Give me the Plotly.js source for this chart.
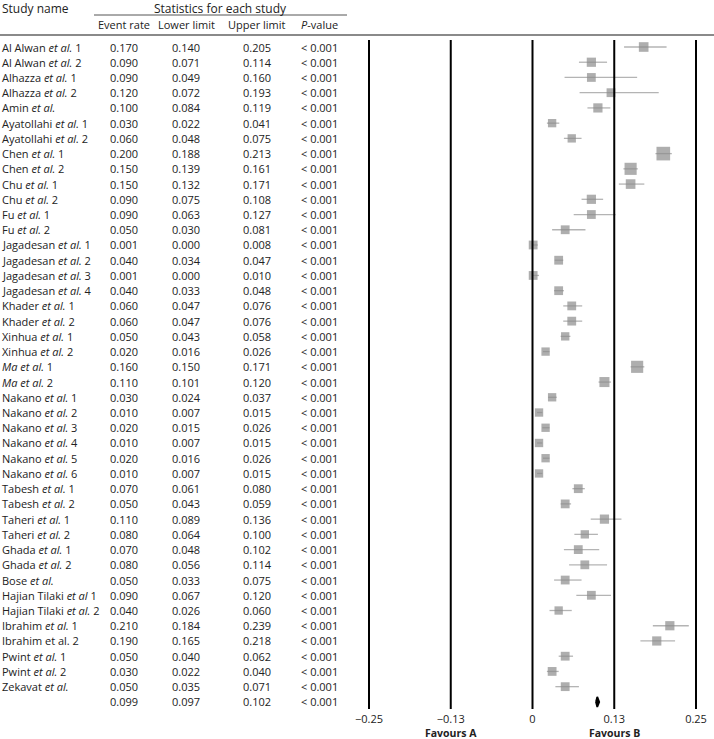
<!DOCTYPE html>
<html>
<head>
<meta charset="utf-8">
<script src="https://cdn.plot.ly/plotly-3.0.1.min.js"></script>
<style>html,body{margin:0;padding:0;background:#fff;}#chart{width:714px;height:739px;}</style>
</head>
<body>
<div id="chart"></div>
<script>
// ---------- DATA ----------
const studies = [
  'Al Alwan <i>et al.</i> 1','Al Alwan <i>et al.</i> 2','Alhazza <i>et al.</i> 1','Alhazza <i>et al.</i> 2',
  'Amin <i>et al.</i>','Ayatollahi <i>et al.</i> 1','Ayatollahi <i>et al.</i> 2','Chen <i>et al.</i> 1',
  'Chen <i>et al.</i> 2','Chu <i>et al.</i> 1','Chu <i>et al.</i> 2','Fu <i>et al.</i> 1','Fu <i>et al.</i> 2',
  'Jagadesan <i>et al.</i> 1','Jagadesan <i>et al.</i> 2','Jagadesan <i>et al.</i> 3','Jagadesan <i>et al.</i> 4',
  'Khader <i>et al.</i> 1','Khader <i>et al.</i> 2','Xinhua <i>et al.</i> 1','Xinhua <i>et al.</i> 2',
  '<i>Ma et al.</i> 1','<i>Ma et al.</i> 2','Nakano <i>et al.</i> 1','Nakano <i>et al.</i> 2','Nakano <i>et al.</i> 3',
  'Nakano <i>et al.</i> 4','Nakano <i>et al.</i> 5','Nakano <i>et al.</i> 6','Tabesh <i>et al.</i> 1',
  'Tabesh <i>et al.</i> 2','Taheri <i>et al.</i> 1','Taheri <i>et al.</i> 2','Ghada <i>et al.</i> 1',
  'Ghada <i>et al.</i> 2','Bose <i>et al.</i>','Hajian Tilaki <i>et al</i> 1','Hajian Tilaki <i>et al.</i> 2',
  'Ibrahim <i>et al.</i> 1','Ibrahim et al. 2','Pwint <i>et al.</i> 1','Pwint <i>et al.</i> 2','Zekavat <i>et al.</i>'
];
const eventRate = [0.170,0.090,0.090,0.120,0.100,0.030,0.060,0.200,0.150,0.150,0.090,0.090,0.050,
  0.001,0.040,0.001,0.040,0.060,0.060,0.050,0.020,0.160,0.110,0.030,0.010,0.020,0.010,0.020,0.010,
  0.070,0.050,0.110,0.080,0.070,0.080,0.050,0.090,0.040,0.210,0.190,0.050,0.030,0.050];
const lowerLimit = [0.140,0.071,0.049,0.072,0.084,0.022,0.048,0.188,0.139,0.132,0.075,0.063,0.030,
  0.000,0.034,0.000,0.033,0.047,0.047,0.043,0.016,0.150,0.101,0.024,0.007,0.015,0.007,0.016,0.007,
  0.061,0.043,0.089,0.064,0.048,0.056,0.033,0.067,0.026,0.184,0.165,0.040,0.022,0.035];
const upperLimit = [0.205,0.114,0.160,0.193,0.119,0.041,0.075,0.213,0.161,0.171,0.108,0.127,0.081,
  0.008,0.047,0.010,0.048,0.076,0.076,0.058,0.026,0.171,0.120,0.037,0.015,0.026,0.015,0.026,0.015,
  0.080,0.059,0.136,0.100,0.102,0.114,0.075,0.120,0.060,0.239,0.218,0.062,0.040,0.071];
const pValue = Array.from({length: 43}, () => '< 0.001');
const relWeight = [1.2,1.1,1.0,1.0,1.1,0.9,0.9,2.4,1.9,1.2,1.1,1.0,1.0,
  1.0,1.0,1.0,1.0,1.0,1.0,0.9,0.9,1.9,1.3,0.9,0.9,0.9,0.9,0.9,0.9,
  1.0,1.0,1.1,0.9,1.0,1.0,1.0,1.0,0.9,1.1,1.1,1.0,1.0,1.0];
const summaryRate = 0.099, summaryLower = 0.097, summaryUpper = 0.102, summaryP = '< 0.001';
const columnHeaders = ['Event rate','Lower limit','Upper limit','<i>P</i>-value'];
const tickValues = [-0.25,-0.125,0,0.125,0.25];
const tickLabels = ['\u22120.25','\u22120.13','0','0.13','0.25'];
const favourLabels = ['Favours A','Favours B'];
const favourAt = [-0.125,0.125];

// ---------- LAYOUT HELPERS ----------
const W = 714, H = 739;
const rowPx = 15.23, firstRowPx = 47;
const yTop = firstRowPx / rowPx;
const yBot = -(H - firstRowPx) / rowPx;
const py = p => yTop - p / rowPx;           // pixel -> y value
const FONT = 'Open Sans, sans-serif';
const TXT = '#222';

const nRows = studies.length;
const rowY = studies.map((_, i) => -i);
const sumY = -nRows;

// ---------- TRACES ----------
const ciX = [], ciY = [];
for (let i = 0; i < nRows; i++) {
  ciX.push(lowerLimit[i], upperLimit[i], null);
  ciY.push(rowY[i], rowY[i], null);
}
const ciTrace = {x: ciX, y: ciY, mode: 'lines', line: {color: '#b4b4b4', width: 1.3},
  hoverinfo: 'skip', showlegend: false};
const ptTrace = {x: eventRate, y: rowY, mode: 'markers',
  marker: {symbol: 'square', color: '#8c8c8c', size: relWeight.map(w => 8.8 * Math.sqrt(w)), line: {width: 0}},
  showlegend: false};
const dh = 0.33;
const diamond = {x: [summaryLower, summaryRate, summaryUpper, summaryRate, summaryLower],
  y: [sumY, sumY + dh, sumY, sumY - dh, sumY], mode: 'lines', fill: 'toself',
  fillcolor: '#000', line: {color: '#000', width: 1.8}, showlegend: false};

// ---------- ANNOTATIONS ----------
const ann = [];
const colX = [124, 186, 257, 319];
const addText = (text, xpx, y, anchor, size, extra) => ann.push(Object.assign({
  text, xref: 'paper', yref: 'y', x: xpx / W, y, xanchor: anchor, yanchor: 'middle',
  showarrow: false, borderpad: 0, font: {family: FONT, size: size || 11, color: TXT}}, extra || {}));

addText('Study name', 1, py(8), 'left', 12);
addText('Statistics for each study', 220, py(8), 'center', 12);
columnHeaders.forEach((h, j) => addText(h, colX[j], py(24), 'center', 11));
for (let i = 0; i < nRows; i++) {
  addText(studies[i], 1, rowY[i], 'left');
  addText(eventRate[i].toFixed(3), colX[0], rowY[i], 'center');
  addText(lowerLimit[i].toFixed(3), colX[1], rowY[i], 'center');
  addText(upperLimit[i].toFixed(3), colX[2], rowY[i], 'center');
  addText(pValue[i], colX[3], rowY[i], 'center');
}
addText(summaryRate.toFixed(3), colX[0], sumY, 'center');
addText(summaryLower.toFixed(3), colX[1], sumY, 'center');
addText(summaryUpper.toFixed(3), colX[2], sumY, 'center');
addText(summaryP, colX[3], sumY, 'center');
favourLabels.forEach((t, j) => ann.push({text: '<b>' + t + '</b>', xref: 'x', yref: 'paper',
  x: favourAt[j], y: 1 - 733 / H, xanchor: 'center', yanchor: 'middle', showarrow: false, borderpad: 0,
  font: {family: FONT, size: 10.5, color: TXT}}));

// ---------- SHAPES ----------
const shapes = [];
tickValues.forEach(v => shapes.push({type: 'line', xref: 'x', yref: 'y', x0: v, x1: v,
  y0: py(40), y1: py(709), line: {color: '#000', width: 2}}));
shapes.push({type: 'line', xref: 'paper', yref: 'y', x0: 0, x1: 1, y0: py(35), y1: py(35),
  line: {color: '#8a8a8a', width: 2}});
shapes.push({type: 'line', xref: 'paper', yref: 'y', x0: 94 / W, x1: 347 / W, y0: py(15), y1: py(15),
  line: {color: '#555', width: 1}});

const x0px = 532.5, pxPerUnit = 654;
const layout = {
  width: W, height: H, margin: {l: 0, r: 0, t: 0, b: 0},
  paper_bgcolor: '#fff', plot_bgcolor: '#fff',
  font: {family: FONT, size: 11, color: TXT},
  xaxis: {domain: [360 / W, 1], range: [(360 - x0px) / pxPerUnit, (W - x0px) / pxPerUnit],
    showgrid: false, zeroline: false, showline: false, ticks: '',
    tickvals: tickValues, ticktext: tickLabels, tickfont: {family: FONT, size: 11, color: TXT},
    anchor: 'free', position: 1 - 711 / H, fixedrange: true},
  yaxis: {domain: [0, 1], range: [yBot, yTop], visible: false, fixedrange: true},
  shapes, annotations: ann, showlegend: false
};
Plotly.newPlot('chart', [ciTrace, ptTrace, diamond], layout, {staticPlot: true});
</script>
</body>
</html>
